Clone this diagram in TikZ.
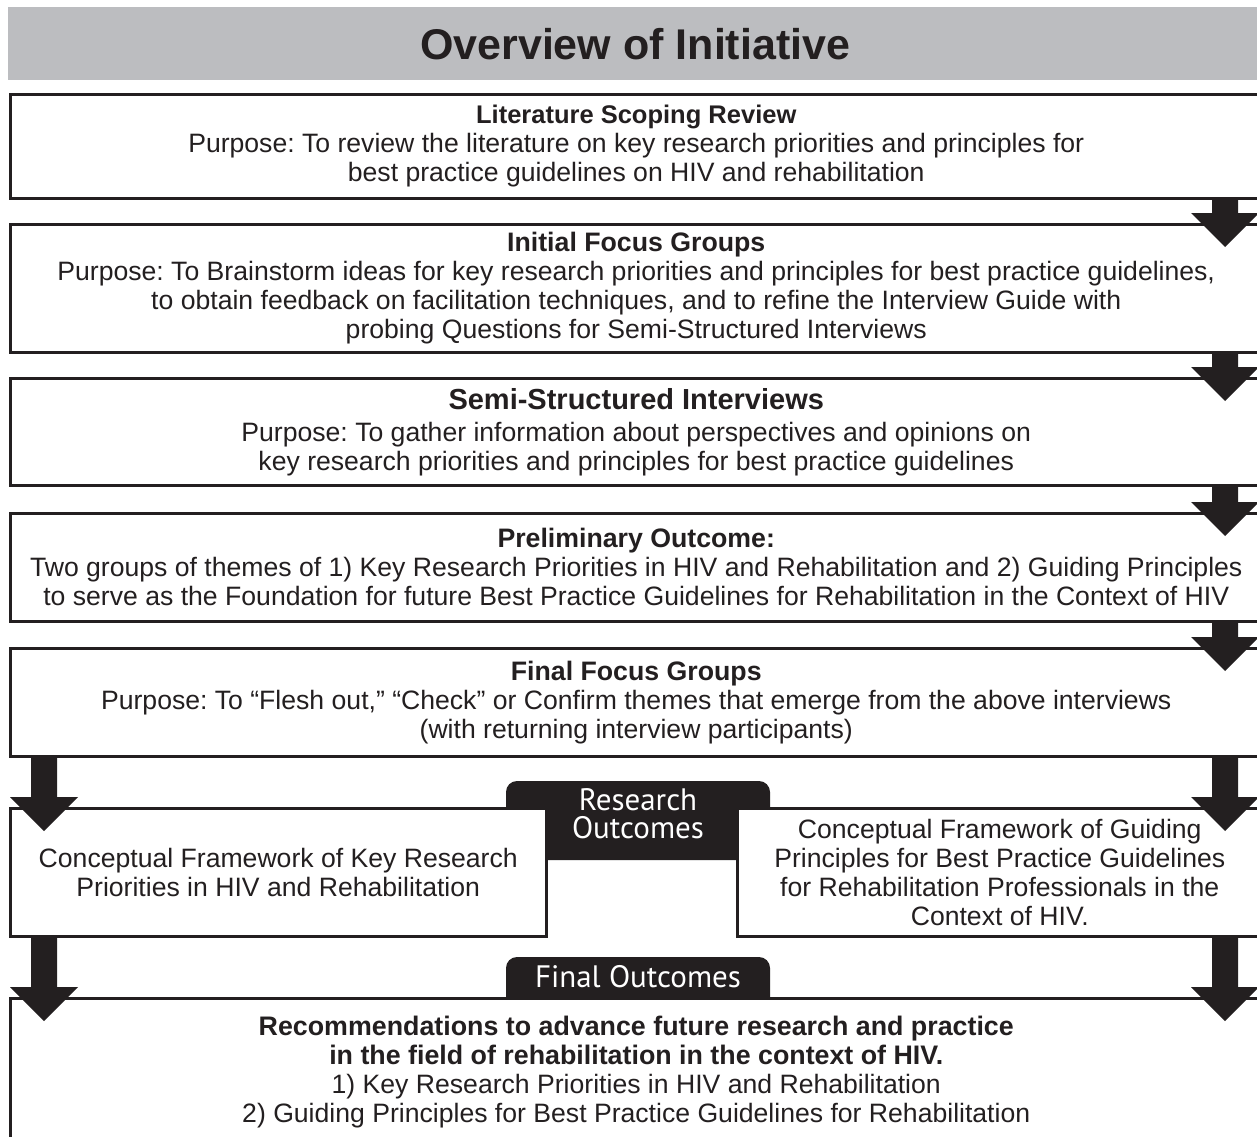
\documentclass[tikz,border=0pt]{standalone}
\usepackage{fontspec}
\setmainfont{Liberation Sans}
\newfontfamily\tabfont{PT Sans}
\usetikzlibrary{calc}
\definecolor{ink}{HTML}{231F20}
\definecolor{bandgray}{HTML}{BCBDC0}
\frenchspacing
\tikzset{
	stagebox/.style={draw=ink, line width=2.5pt, fill=white, anchor=north west, align=center, inner sep=0pt, text=ink, font=\fontsize{26.6}{29}\selectfont},
	tabshape/.style={fill=ink, rounded corners=11pt},
	tablabel/.style={text=white, align=center, font=\tabfont\fontsize{31}{28}\selectfont},
}
\newcommand{\stagehead}[2][26.7]{{\bfseries\fontsize{#1}{29}\selectfont #2}}
% block arrow down the column #1, from the bottom of #2 into the top of #3
\def\flowarrow(#1)(#2)(#3){\fill[ink] ($(#1|-#2.south)+(-13,-2)$) -- ($(#1|-#2.south)+(13,-2)$) -- ($(#1|-#3.north)+(13,-10)$) -- ($(#1|-#3.north)+(34,-10)$) -- ($(#1|-#3.north)+(0,24)$) -- ($(#1|-#3.north)+(-34,-10)$) -- ($(#1|-#3.north)+(-13,-10)$) -- cycle;}

\begin{document}
\begin{tikzpicture}[x=1pt, y=-1pt]
		%%%%% START %%%%%
		\useasboundingbox (0, 0) rectangle (1257, 1136);
		
		\node[fill=bandgray, anchor=north west, minimum width=1254pt, minimum height=73pt, inner sep=0pt, text=ink, font=\bfseries\fontsize{43}{45}\selectfont] (title) at (8, 7) {Overview of Initiative};
		
		% dark tabs sit behind the boxes
		\fill[tabshape] (506, 781) rectangle (770, 860);
		\node[tablabel] (restab) at (638, 814) {Research\\Outcomes};
		\fill[tabshape] (506, 957) rectangle (770, 1012);
		\node[tablabel] (fintab) at (638, 977) {Final Outcomes};
		
		\node[stagebox, minimum width=1252pt, minimum height=104pt] (lit) at (9, 93) {\stagehead[25.5]{Literature Scoping Review}\\
			Purpose: To review the literature on key research priorities and principles for\\
			best practice guidelines on HIV and rehabilitation};
		
		\node[stagebox, minimum width=1252pt, minimum height=128pt] (ifg) at (9, 223) {\stagehead{Initial Focus Groups}\\
			Purpose: To Brainstorm ideas for key research priorities and principles for best practice guidelines,\\
			to obtain feedback on facilitation techniques, and to refine the Interview Guide with\\
			probing Questions for Semi-Structured Interviews};
		
		\node[stagebox, minimum width=1252pt, minimum height=107pt] (ssi) at (9, 377) {\stagehead[29]{Semi-Structured Interviews}\\[3pt]
			Purpose: To gather information about perspectives and opinions on\\
			key research priorities and principles for best practice guidelines};
		
		\node[stagebox, minimum width=1252pt, minimum height=108pt] (pre) at (9, 512) {\stagehead{Preliminary Outcome:}\\
			Two groups of themes of 1) Key Research Priorities in HIV and Rehabilitation and 2) Guiding Principles\\
			to serve as the Foundation for future Best Practice Guidelines for Rehabilitation in the Context of HIV};
		
		\node[stagebox, minimum width=1252pt, minimum height=108pt] (ffg) at (9, 647) {\stagehead{Final Focus Groups}\\
			Purpose: To “Flesh out,” “Check” or Confirm themes that emerge from the above interviews\\
			(with returning interview participants)};
		
		\node[stagebox, minimum width=536pt, minimum height=128pt] (resfw) at (9, 807) {Conceptual Framework of Key Research\\
			Priorities in HIV and Rehabilitation};
		\node[stagebox, minimum width=525pt, minimum height=128pt] (prinfw) at (736, 807) {Conceptual Framework of Guiding\\
			Principles for Best Practice Guidelines\\
			for Rehabilitation Professionals in the\\
			Context of HIV.};
		
		\node[stagebox, minimum width=1252pt, minimum height=147pt] (recs) at (9, 997) {\stagehead[26.8]{Recommendations to advance future research and practice}\\
			\stagehead[26.8]{in the field of rehabilitation in the context of HIV.}\\
			1) Key Research Priorities in HIV and Rehabilitation\\
			2) Guiding Principles for Best Practice Guidelines for Rehabilitation};
		
		% arrow columns
		\coordinate (lcol) at (44, 0);
		\coordinate (rcol) at (1225, 0);
		\flowarrow(rcol)(lit)(ifg)
		\flowarrow(rcol)(ifg)(ssi)
		\flowarrow(rcol)(ssi)(pre)
		\flowarrow(rcol)(pre)(ffg)
		\flowarrow(lcol)(ffg)(resfw)
		\flowarrow(rcol)(ffg)(prinfw)
		\flowarrow(lcol)(resfw)(recs)
		\flowarrow(rcol)(prinfw)(recs)
		%%%%% END %%%%%
\end{tikzpicture}
\end{document}
